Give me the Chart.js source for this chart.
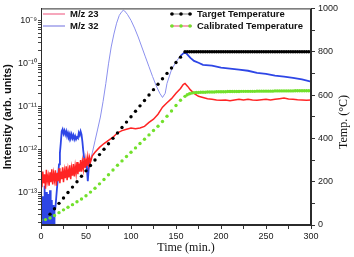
<!DOCTYPE html>
<html lang="en">
<head>
<meta charset="UTF-8">
<title>Intensity and temperature vs time</title>
<script src="https://cdn.jsdelivr.net/npm/chart.js@4.4.1/dist/chart.umd.min.js"></script>
<style>
  body { margin: 0; background: #fff; }
  canvas { display: block; }
</style>
</head>
<body>
<canvas id="chart" width="354" height="257"></canvas>
<script>
// M/z 23 signal (min, arb. units)
var redTime = [0,1,2,3,4,5,6,7,8,9,10,11,12,13,14,15,16,17,18,19,20,21,22,23,24,25,26,27,28,29,
  30,31,32,33,34,35,36,37,38,39,40,41,42,43,44,45,46,47,48,49,50,51,52,53,54,55,
  57,60,65,70,75,80,85,90,95,100,105,110,115,120,125,130,135,140,145,150,155,158,160,163,166,170,
  175,180,185,190,195,200,205,210,215,220,225,230,235,240,245,250,255,260,265,270,275,280,285,290,295,300];
var redValue = [2.2e-13,1.3e-13,3.0e-13,1.6e-13,2.6e-13,1.2e-13,3.3e-13,1.8e-13,2.4e-13,1.4e-13,
  2.9e-13,1.7e-13,3.4e-13,1.5e-13,2.7e-13,1.9e-13,3.2e-13,1.4e-13,2.8e-13,1.8e-13,
  3.6e-13,1.6e-13,3.0e-13,2.0e-13,3.8e-13,1.7e-13,3.1e-13,2.1e-13,4.0e-13,1.9e-13,
  3.3e-13,2.2e-13,4.2e-13,2.0e-13,3.6e-13,2.4e-13,4.5e-13,2.3e-13,4.0e-13,2.7e-13,
  5.0e-13,2.6e-13,4.6e-13,3.0e-13,5.6e-13,3.0e-13,5.2e-13,3.5e-13,6.2e-13,3.6e-13,
  5.8e-13,4.0e-13,6.6e-13,4.4e-13,6.4e-13,5.0e-13,
  7.0e-13,8.5e-13,1.1e-12,1.35e-12,1.6e-12,1.9e-12,2.4e-12,2.7e-12,2.9e-12,3.1e-12,3.0e-12,3.1e-12,
  3.4e-12,4.2e-12,5.0e-12,6.5e-12,9.5e-12,1.2e-11,1.5e-11,2.0e-11,2.6e-11,3.2e-11,3.4e-11,2.9e-11,
  2.4e-11,2.0e-11,1.7e-11,1.6e-11,1.5e-11,1.45e-11,1.4e-11,1.37e-11,1.4e-11,1.35e-11,1.4e-11,1.45e-11,
  1.4e-11,1.45e-11,1.4e-11,1.38e-11,1.42e-11,1.45e-11,1.4e-11,1.45e-11,1.5e-11,1.55e-11,1.48e-11,
  1.45e-11,1.42e-11,1.4e-11,1.38e-11,1.4e-11];

// M/z 32 signal
var blueTime = [0,0.5,1,1.5,2,2.5,3,3.5,4,4.5,5,5.5,6,6.5,7,7.5,8,8.5,9,9.5,10,10.5,11,11.5,12,12.5,13,13.5,14,14.5,15,
  16,17,18,19,20,21,22,23,24,25,26,27,28,29,30,31,32,33,34,35,36,37,38,39,40,41,42,43,44,45,46,47,48,49,50,
  51,52,53,54,55,57,60,63,66,69,72,75,78,81,84,87,90,91.5,93,96,100,104,108,112,116,120,124,128,132,135,
  138,140,145,150,155,160,163,166,170,175,180,190,200,210,220,230,240,250,260,270,280,290,300];
var blueValue = [3e-14,1.2e-14,6e-14,1.5e-14,8e-14,1.2e-14,5e-14,1.1e-14,1.4e-13,1.5e-14,7e-14,1.2e-14,
  1.0e-13,1.6e-14,4.5e-14,1.1e-14,9e-14,1.4e-14,5.5e-14,1.2e-14,1.1e-13,1.6e-14,4e-14,1.2e-14,6.5e-14,
  1.3e-14,3.5e-14,1.1e-14,5e-14,1.5e-14,4e-14,
  4.3e-14,7.8e-14,1.4e-13,2.4e-13,4.4e-13,8.1e-13,1.4e-12,2.6e-12,
  2.9e-12,2.3e-12,2.7e-12,2.2e-12,2.6e-12,2.0e-12,2.4e-12,2.0e-12,2.3e-12,1.8e-12,2.2e-12,1.8e-12,
  2.1e-12,1.7e-12,2.0e-12,1.7e-12,1.9e-12,1.8e-12,2.4e-12,2.1e-12,2.6e-12,2.2e-12,1.5e-12,9e-13,
  6e-13,4.5e-13,5e-13,3.5e-13,1.8e-13,3.5e-13,4.6e-13,5.5e-13,
  8.2e-13,1.56e-12,2.94e-12,5.6e-12,1.3e-11,3.37e-11,9.7e-11,2.4e-10,4.8e-10,8.6e-10,1.31e-9,1.62e-9,
  1.71e-9,1.65e-9,1.38e-9,1.0e-9,6.6e-10,4.1e-10,2.4e-10,1.41e-10,8.3e-11,4.9e-11,3.0e-11,2.0e-11,
  1.6e-11,2.0e-11,3.4e-11,7.1e-11,1.08e-10,1.49e-10,1.84e-10,1.57e-10,1.34e-10,1.14e-10,1.03e-10,
  9.2e-11,8.8e-11,7.9e-11,7.5e-11,7.1e-11,6.7e-11,6.0e-11,5.7e-11,5.15e-11,4.9e-11,4.6e-11,4.2e-11,3.75e-11];

// temperatures (°C)
var targetTime = [10,15,20,25,30,35,40,45,50,55,60,65,70,75,80,85,90,95,100,105,110,115,120,125,130,135,140,145,150,155,160,
  162.5,165,167.5,170,172.5,175,177.5,180,182.5,185,187.5,190,192.5,195,197.5,200,202.5,205,207.5,210,
  212.5,215,217.5,220,222.5,225,227.5,230,232.5,235,237.5,240,242.5,245,247.5,250,252.5,255,257.5,260,
  262.5,265,267.5,270,272.5,275,277.5,280,282.5,285,287.5,290,292.5,295,297.5,300];
var targetTemp = [50,75,100,125,150,175,200,225,250,275,300,325,350,375,400,425,450,475,500,525,550,575,600,
  625,650,675,700,725,750,775,800,
  800,800,800,800,800,800,800,800,800,800,800,800,800,800,800,800,800,800,800,800,
  800,800,800,800,800,800,800,800,800,800,800,800,800,800,800,800,800,800,800,800,
  800,800,800,800,800,800,800,800,800,800,800,800,800,800,800,800];
var calTime = [0,5,10,15,20,25,30,35,40,45,50,55,60,65,70,75,80,85,90,95,100,105,110,115,120,125,130,135,140,145,150,155,160,
  162.5,165,167.5,170,172.5,175,177.5,180,182.5,185,187.5,190,192.5,195,197.5,200,202.5,205,207.5,210,
  212.5,215,217.5,220,222.5,225,227.5,230,232.5,235,237.5,240,242.5,245,247.5,250,252.5,255,257.5,260,
  262.5,265,267.5,270,272.5,275,277.5,280,282.5,285,287.5,290,292.5,295,297.5,300];
var calTemp = [23,25,32,44,57,70,82,94,107,120,135,152,170,190,210,232,254,276,296,316,336,356,376,396,416,
  436,456,478,502,526,552,576,594,
  601,606,609,611,612,612,613,613,613,614,614,614,614,615,615,615,615,615,616,616,
  616,616,616,616,617,617,617,617,617,617,617,618,618,618,618,618,618,618,618,619,
  619,619,619,619,619,619,619,619,620,620,620,620,620,620,620,620];

// axis ticks
var intensityTicks = [1e-13, 1e-12, 1e-11, 1e-10, 1e-9];
var intensityLabels = ['10⁻¹³', '10⁻¹²', '10⁻¹¹', '10⁻¹⁰', '10⁻⁹'];

function points(xs, ys) {
  return xs.map(function (x, i) { return { x: x, y: ys[i] }; });
}

Chart.defaults.font.family = '"Liberation Sans", Arial, sans-serif';
Chart.defaults.font.size = 9;
Chart.defaults.color = '#1a1a1a';

// frame, axis titles and the two legend blocks
var decor = {
  id: 'decor',
  afterDraw: function (chart) {
    var ctx = chart.ctx, a = chart.chartArea;
    ctx.save();
    ctx.strokeStyle = '#2b2b2b';
    ctx.lineWidth = 1;
    ctx.strokeRect(a.left + 0.5, a.top + 0.5, a.right - a.left - 1, a.bottom - a.top - 1);

    ctx.fillStyle = '#111';
    ctx.textAlign = 'center';
    ctx.textBaseline = 'middle';
    ctx.font = 'bold 11px "Liberation Sans", Arial, sans-serif';
    ctx.save();
    ctx.translate(8, (a.top + a.bottom) / 2);
    ctx.rotate(-Math.PI / 2);
    ctx.fillText('Intensity (arb. units)', 0, 0);
    ctx.restore();

    ctx.font = '12px "Liberation Serif", "Times New Roman", serif';
    ctx.fillText('Time (min.)', 186, 248);
    ctx.save();
    ctx.translate(344, 122);
    ctx.rotate(-Math.PI / 2);
    ctx.fillText('Temp. (°C)', 0, 0);
    ctx.restore();

    ctx.font = 'bold 9.5px "Liberation Sans", Arial, sans-serif';
    ctx.textAlign = 'left';
    chart.data.datasets.forEach(function (ds) {
      var p = ds.legendPos;
      ctx.strokeStyle = ds.legendLine;
      ctx.lineWidth = 1.3;
      ctx.beginPath();
      ctx.moveTo(p.x, p.y);
      ctx.lineTo(p.x + 22, p.y);
      ctx.stroke();
      if (ds.legendDot) {
        ctx.fillStyle = ds.legendDot;
        [2, 11, 20].forEach(function (dx) {
          ctx.beginPath();
          ctx.arc(p.x + dx, p.y, 1.8, 0, 2 * Math.PI);
          ctx.fill();
        });
      }
      ctx.fillStyle = '#111';
      ctx.fillText(ds.label, p.x + 27, p.y + 0.5);
    });
    ctx.restore();
  }
};

var ctx = document.getElementById('chart').getContext('2d');

var chart = new Chart(ctx, {
  type: 'line',
  data: {
    datasets: [{
      label: 'Calibrated Temperature',
      data: points(calTime, calTemp),
      yAxisID: 'y2',
      showLine: false,
      pointRadius: 1.7,
      pointBorderWidth: 0,
      pointBackgroundColor: '#72e02c',
      order: 0,
      legendLine: '#f0708e',
      legendDot: '#72e02c',
      legendPos: { x: 170, y: 26 }
    }, {
      label: 'Target Temperature',
      data: points(targetTime, targetTemp),
      yAxisID: 'y2',
      showLine: false,
      pointRadius: 1.7,
      pointBorderWidth: 0,
      pointBackgroundColor: '#000',
      order: 1,
      legendLine: '#999',
      legendDot: '#000',
      legendPos: { x: 170, y: 14 }
    }, {
      label: 'M/z 23',
      data: points(redTime, redValue),
      yAxisID: 'y',
      borderColor: '#ff2424',
      borderWidth: 1.5,
      pointRadius: 0,
      clip: 0,
      order: 2,
      legendLine: '#f27898',
      legendPos: { x: 43, y: 14 }
    }, {
      label: 'M/z 32',
      data: points(blueTime, blueValue),
      yAxisID: 'y',
      borderColor: '#2e46e6',
      borderWidth: 1.8,
      pointRadius: 0,
      clip: 0,
      order: 3,
      segment: {
        borderColor: function (c) { return c.p0.parsed.x >= 55 && c.p1.parsed.x <= 158 ? '#8b90ee' : undefined; },
        borderWidth: function (c) { return c.p0.parsed.x >= 55 && c.p1.parsed.x <= 158 ? 1 : undefined; }
      },
      legendLine: '#9090e6',
      legendPos: { x: 43, y: 26 }
    }]
  },
  options: {
    responsive: false,
    animation: false,
    events: [],
    layout: { padding: { top: 6, left: 0, right: 0, bottom: 0 } },
    plugins: { legend: { display: false }, tooltip: { enabled: false } },
    scales: {
      x: {
        type: 'linear',
        min: 0,
        max: 300,
        ticks: {
          stepSize: 25,
          autoSkip: false,
          maxRotation: 0,
          padding: 2,
          callback: function (v) { return v % 50 === 0 ? v : ''; }
        },
        grid: { drawOnChartArea: false, tickLength: 4, tickColor: '#333' },
        border: { color: '#2b2b2b' },
        afterFit: function (s) { s.height = 32; }
      },
      y: {
        type: 'logarithmic',
        position: 'left',
        min: 1.71e-14,
        max: 1.9e-9,
        afterBuildTicks: function (s) {
          var list = [];
          [1e-14].concat(intensityTicks).forEach(function (d) {
            [1, 2, 3, 4, 5, 6, 7, 8, 9].forEach(function (m) {
              var v = d * m;
              if (v >= s.min && v <= s.max) list.push({ value: v });
            });
          });
          s.ticks = list;
        },
        ticks: {
          autoSkip: false,
          padding: 1,
          callback: function (v) {
            var i = intensityTicks.indexOf(v);
            return i >= 0 ? intensityLabels[i] : '';
          }
        },
        grid: { drawOnChartArea: false, tickLength: 3, tickColor: '#444' },
        border: { color: '#2b2b2b' },
        afterFit: function (s) { s.width = 41; }
      },
      y2: {
        type: 'linear',
        position: 'right',
        min: 0,
        max: 1000,
        ticks: {
          stepSize: 100,
          autoSkip: false,
          padding: 3,
          callback: function (v) { return v % 200 === 0 ? v : ''; }
        },
        grid: { drawOnChartArea: false, tickLength: 4, tickColor: '#333' },
        border: { color: '#2b2b2b' },
        afterFit: function (s) { s.width = 43; }
      }
    }
  },
  plugins: [decor]
});
</script>
</body>
</html>
